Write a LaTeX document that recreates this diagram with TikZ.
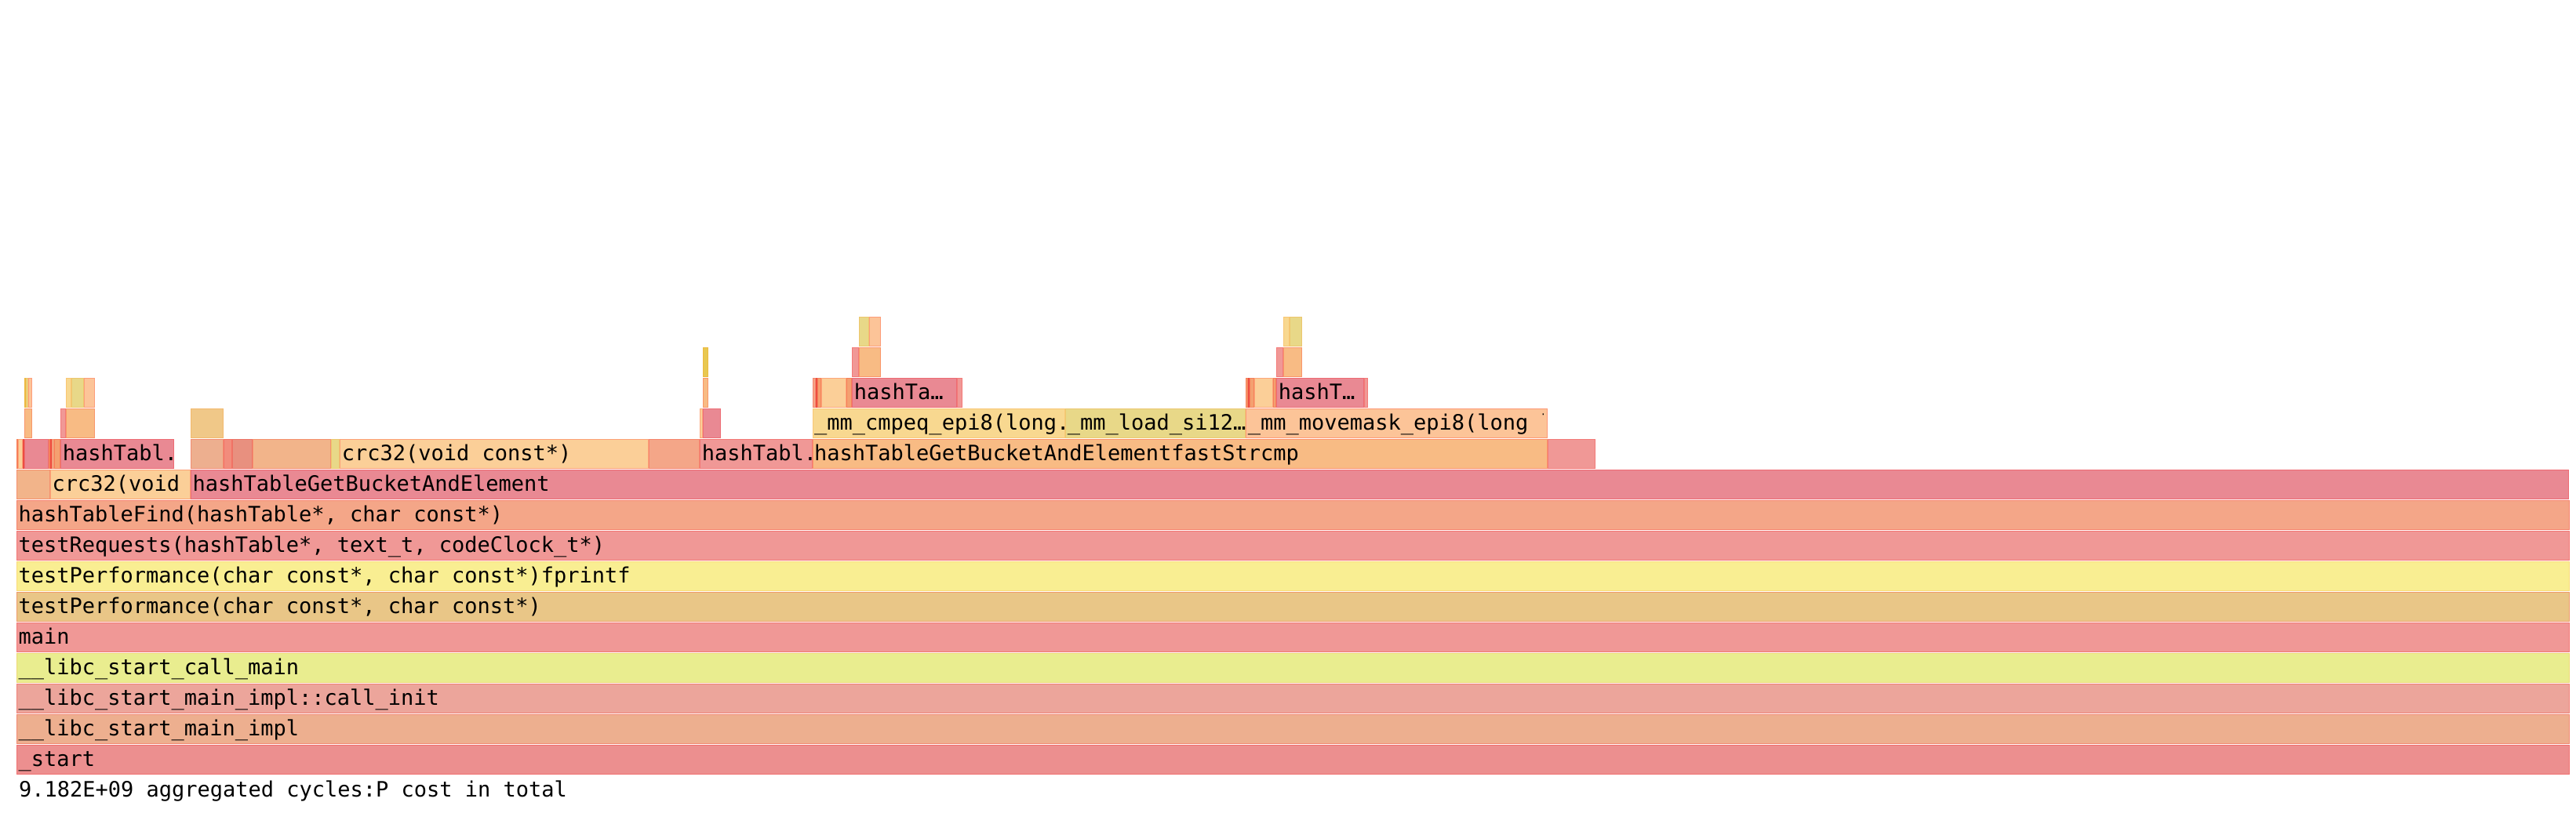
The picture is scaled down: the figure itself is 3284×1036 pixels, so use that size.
\documentclass[tikz,border=0pt]{standalone}
\usepackage{fontspec}
\setmonofont{DejaVu Sans Mono}
\usetikzlibrary{positioning}

\definecolor{strt}{HTML}{EC8F8F}
\definecolor{impl}{HTML}{EDAF8F}
\definecolor{cinit}{HTML}{ECA59B}
\definecolor{lcm}{HTML}{E9ED8F}
\definecolor{tperf}{HTML}{E9C687}
\definecolor{tpf}{HTML}{F9EE92}
\definecolor{pk}{HTML}{E98993}
\definecolor{pkl}{HTML}{F09896}
\definecolor{slm}{HTML}{F4A688}
\definecolor{ltor}{HTML}{FBCF98}
\definecolor{orng}{HTML}{F8BB84}
\definecolor{orng2}{HTML}{F2B48A}
\definecolor{peach}{HTML}{FCC498}
\definecolor{cmpq}{HTML}{F8D890}
\definecolor{load}{HTML}{E8D888}
\definecolor{tan}{HTML}{F0C888}
\definecolor{rsal}{HTML}{F28C7C}
\definecolor{rbrn}{HTML}{E8907F}
\definecolor{redt}{HTML}{E86050}
\definecolor{ora}{HTML}{F4A070}
\definecolor{ylw}{HTML}{E8C850}

\begin{document}
\begin{tikzpicture}[x=1pt,y=-1pt,line width=1pt,
    frm/.style={fill=#1,draw=#1!78!red,rectangle,anchor=north west,
                inner sep=0pt,outer sep=0pt,minimum height=37pt},
    frmy/.style={frm=#1,draw=#1!82!orange},
    lbl/.style={anchor=base west,inner sep=0pt,
                font=\ttfamily\fontsize{27}{32}\selectfont}]
  \path[use as bounding box,fill=white] (0,0) rectangle (3284,1036);

  % full width rows
  \node[frm=strt,minimum width=3254pt] (start) at (21.5,950.5) {};
  \node[frm=impl,minimum width=3254pt,above=2pt of start] (impl) {};
  \node[frm=cinit,minimum width=3254pt,above=2pt of impl] (cinit) {};
  \node[frmy=lcm,minimum width=3254pt,above=2pt of cinit] (lcm) {};
  \node[frm=pkl,minimum width=3254pt,above=2pt of lcm] (main) {};
  \node[frm=tperf,minimum width=3254pt,above=2pt of main] (tperf) {};
  \node[frmy=tpf,minimum width=3254pt,above=2pt of tperf] (tpf) {};
  \node[frm=pkl,minimum width=3254pt,above=2pt of tpf] (treq) {};
  \node[frm=slm,minimum width=3254pt,above=2pt of treq] (find) {};

  % labelled frames above
  \node[frm=ltor,minimum width=178pt] (crcA) at (64.5,599.5) {};
  \node[frm=pk,minimum width=3031pt] (getA) at (243.5,599.5) {};
  \node[frm=pk,minimum width=144pt] (findA) at (77.8,560.5) {};
  \node[frm=ltor,minimum width=392.7pt] (crcB) at (433.8,560.5) {};
  \node[frm=pkl,minimum width=142.4pt] (findB) at (892.8,560.5) {};
  \node[frm=orng,minimum width=936.6pt] (getB) at (1036.2,560.5) {};
  \node[frmy=cmpq,minimum width=321.6pt] (cmpeq) at (1036.2,521.5) {};
  \node[frmy=load,minimum width=229pt] (loadA) at (1358.8,521.5) {};
  \node[frm=peach,minimum width=384pt] (mvmsk) at (1588.8,521.5) {};
  \node[frm=pk,minimum width=133pt] (findC) at (1086.8,482.5) {};
  \node[frm=pk,minimum width=111pt] (findD) at (1627.8,482.5) {};

  % small frames: x1/x2/row/colour/edge
  \foreach \xa/\xb/\r/\c/\m in {
      21/64/9/orng2/red,
      21/22.7/10/ora/red, 22.7/29.3/10/ltor/red, 29.3/31/10/redt/red,
      31/62/10/pk/red, 62/64/10/ora/red, 64/66/10/redt/red,
      66/69.3/10/orng2/red, 69.3/77.3/10/ora/red,
      243/285.3/10/impl/red, 285.3/296.3/10/rsal/red, 296.3/322.3/10/rbrn/red,
      322.3/421.7/10/orng2/red, 421.7/433.3/10/load/orange,
      827/892.3/10/slm/red, 1973.3/2033.7/10/pkl/red,
      31/40.7/11/orng/red, 77/84.3/11/pkl/red, 84.3/120.7/11/orng/red,
      243.3/284.7/11/tan/orange, 892.3/896/11/ltor/red, 896/919.3/11/pk/red,
      31/33.3/12/ylw/orange, 33.3/36/12/load/orange, 36/40.7/12/peach/red,
      84/91.3/12/cmpq/orange, 91.3/107.3/12/load/orange, 107.3/120.7/12/peach/red,
      896/902.7/12/orng/red,
      1035.7/1040/12/slm/red, 1040/1041.7/12/redt/red, 1041.7/1047.3/12/ora/red,
      1047.3/1079.3/12/ltor/red, 1079.3/1086.3/12/ora/red, 1220.3/1226.7/12/pkl/red,
      1588.3/1590.7/12/ora/red, 1590.7/1593.3/12/redt/red, 1593.3/1598.7/12/ora/red,
      1598.7/1623.3/12/ltor/red, 1623.3/1627.3/12/ora/red, 1739.3/1743.7/12/pkl/red,
      896/902.7/13/ylw/orange, 1086/1095.3/13/pkl/red, 1095.3/1122.7/13/orng/red,
      1627/1636.3/13/pkl/red, 1636.3/1659.7/13/orng/red,
      1095/1108.3/14/load/orange, 1108.3/1122.7/14/peach/red,
      1636/1644.3/14/cmpq/orange, 1644.3/1659.7/14/load/orange}
    \draw[fill=\c,draw=\c!80!\m] ({\xa+0.5},{950.5-39*\r}) rectangle ({\xb-0.5},{987.5-39*\r});

  % labels
  \node[lbl] (startl) at ([xshift=1.5pt,yshift=10pt]start.south west) {\_start};
  \node[lbl] (impll) at ([xshift=1.5pt,yshift=10pt]impl.south west) {\_\_libc\_start\_main\_impl};
  \node[lbl] (cinitl) at ([xshift=1.5pt,yshift=10pt]cinit.south west) {\_\_libc\_start\_main\_impl::call\_init};
  \node[lbl] (lcml) at ([xshift=1.5pt,yshift=10pt]lcm.south west) {\_\_libc\_start\_call\_main};
  \node[lbl] (mainl) at ([xshift=1.5pt,yshift=10pt]main.south west) {main};
  \node[lbl] (tperfl) at ([xshift=1.5pt,yshift=10pt]tperf.south west) {testPerformance(char const*, char const*)};
  \node[lbl] (tpfl) at ([xshift=1.5pt,yshift=10pt]tpf.south west) {testPerformance(char const*, char const*)fprintf};
  \node[lbl] (treql) at ([xshift=1.5pt,yshift=10pt]treq.south west) {testRequests(hashTable*, text\_t, codeClock\_t*)};
  \node[lbl] (findl) at ([xshift=1.5pt,yshift=10pt]find.south west) {hashTableFind(hashTable*, char const*)};
  \node[lbl] (crcAl) at ([xshift=1.5pt,yshift=10pt]crcA.south west) {crc32(void};
  \node[lbl] (getAl) at ([xshift=1.5pt,yshift=10pt]getA.south west) {hashTableGetBucketAndElement};
  \node[lbl] (findAl) at ([xshift=1.5pt,yshift=10pt]findA.south west) {hashTabl.};
  \node[lbl] (crcBl) at ([xshift=1.5pt,yshift=10pt]crcB.south west) {crc32(void const*)};
  \node[lbl] (findBl) at ([xshift=1.5pt,yshift=10pt]findB.south west) {hashTabl.};
  \node[lbl] (getBl) at ([xshift=1.5pt,yshift=10pt]getB.south west) {hashTableGetBucketAndElementfastStrcmp};
  \node[lbl] (cmpeql) at ([xshift=1.5pt,yshift=10pt]cmpeq.south west) {\_mm\_cmpeq\_epi8(long.};
  \node[lbl] (loadAl) at ([xshift=1.5pt,yshift=10pt]loadA.south west) {\_mm\_load\_si12…};
  \begin{scope}
    \clip (mvmsk.south west) rectangle ([xshift=-5pt]mvmsk.north east);
    \node[lbl] (mvmskl) at ([xshift=1.5pt,yshift=10pt]mvmsk.south west) {\_mm\_movemask\_epi8(long long};
  \end{scope}
  \node[lbl] (findCl) at ([xshift=1.5pt,yshift=10pt]findC.south west) {hashTa…};
  \node[lbl] (findDl) at ([xshift=1.5pt,yshift=10pt]findD.south west) {hashT…};

  \node[lbl] (total) at ([xshift=2pt,yshift=-29.2pt]start.south west) {9.182E+09 aggregated cycles:P cost in total};
\end{tikzpicture}
\end{document}
